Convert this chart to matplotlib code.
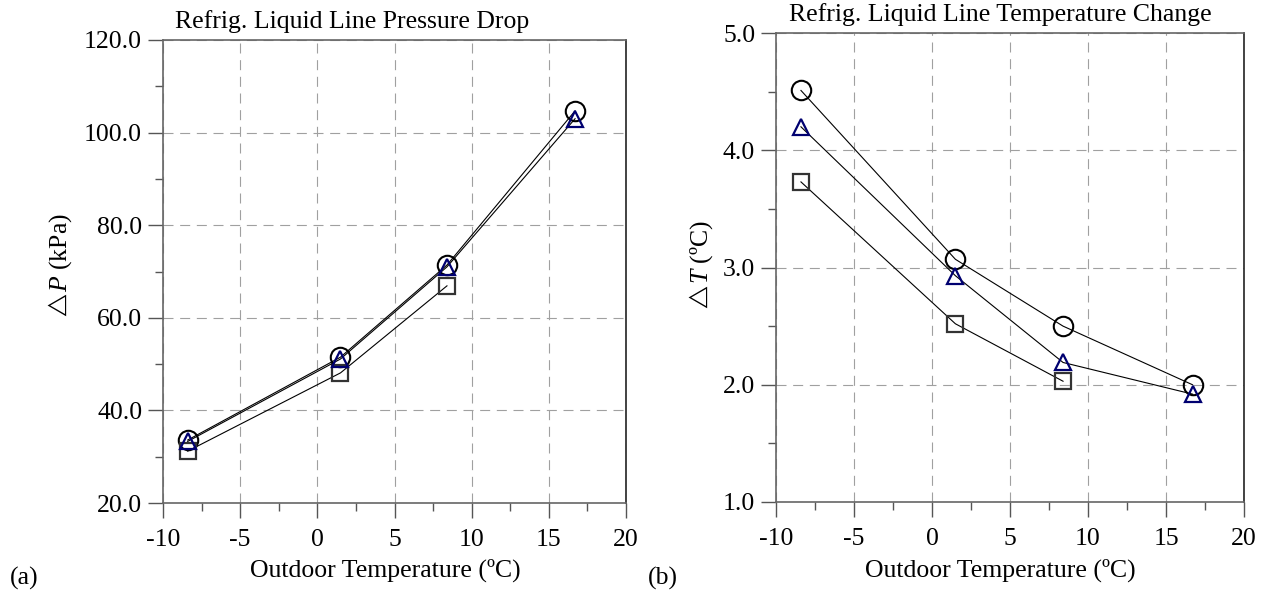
import numpy as np
import matplotlib
matplotlib.use("Agg")
import matplotlib.pyplot as plt
from matplotlib.ticker import MultipleLocator, FormatStrFormatter

plt.rcParams["font.family"] = ["Liberation Serif", "DejaVu Serif"]
plt.rcParams["mathtext.fontset"] = "custom"
plt.rcParams["mathtext.rm"] = "Liberation Serif"
plt.rcParams["mathtext.it"] = "Liberation Serif:italic"
plt.rcParams["mathtext.fallback"] = "stix"
plt.rcParams["axes.unicode_minus"] = False

# outdoor temperatures of the test points
t_out = [-8.4, 1.5, 8.4, 16.7]

# liquid line pressure drop (kPa)
dp_circle = [33.6, 51.5, 71.4, 104.7]
dp_triangle = [33.3, 51.1, 71.0, 103.0]
dp_square = [31.2, 48.1, 66.9]

# liquid line temperature change (C)
dt_circle = [4.51, 3.07, 2.50, 2.00]
dt_triangle = [4.20, 2.93, 2.19, 1.92]
dt_square = [3.73, 2.52, 2.03]

FS = 18.5
W, H = 1267, 592

fig = plt.figure(figsize=(W / 100, H / 100), dpi=100)
ax1 = fig.add_axes([163 / W, 1 - 503 / H, 463 / W, 463 / H])
ax2 = fig.add_axes([776 / W, 1 - 502 / H, 468 / W, 469 / H])


def draw(ax, yc, yt, ys):
    line_kw = dict(color="black", lw=0.8)
    ax.plot(t_out, yc, marker="o", ms=14, mfc="none", mec="black", mew=1.5, **line_kw)
    ax.plot(t_out[:len(ys)], ys, marker="s", ms=11, mfc="none", mec="#333333", mew=1.6, **line_kw)
    ax.plot(t_out, yt, marker="^", ms=12, mfc="none", mec="#000070", mew=1.6, **line_kw)


def style(ax, ymin, ymax, ystep):
    ax.set_xlim(-10, 20)
    ax.set_ylim(ymin, ymax)
    ax.xaxis.set_major_locator(MultipleLocator(5))
    ax.xaxis.set_minor_locator(MultipleLocator(2.5))
    ax.yaxis.set_major_locator(MultipleLocator(ystep))
    ax.yaxis.set_minor_locator(MultipleLocator(ystep / 2))
    ax.yaxis.set_major_formatter(FormatStrFormatter("%.1f"))
    ax.grid(True, which="major", color="#a0a0a0", lw=0.8, linestyle=(0, (9, 6)))
    ax.tick_params(which="major", direction="out", length=11, width=1, colors="#555555",
                   labelsize=FS, labelcolor="black")
    ax.tick_params(which="minor", direction="out", length=6, width=1, colors="#555555")
    ax.tick_params(axis="x", which="major", pad=8)
    ax.tick_params(axis="y", which="major", pad=4)
    for side in ["left", "bottom", "top"]:
        ax.spines[side].set_color("#666666")
    ax.spines["right"].set_color("#222222")
    for s in ax.spines.values():
        s.set_linewidth(1.2)
    ax.set_xlabel("Outdoor Temperature (\u00baC)", fontsize=FS)
    ax.xaxis.set_label_coords(0.48, -0.12)


def ylabel(x, y_split, text):
    # small open triangle for the "delta", with the rest of the label stacked above it
    fig.text(x / W, 1 - (y_split + 12.5) / H, r"$\triangle$", fontsize=14.5, rotation=90,
             ha="center", va="center")
    fig.text((x + 2) / W, 1 - (y_split - 1) / H, text, fontsize=FS, rotation=90,
             ha="center", va="bottom")


draw(ax1, dp_circle, dp_triangle, dp_square)
style(ax1, 20, 120, 20)
draw(ax2, dt_circle, dt_triangle, dt_square)
style(ax2, 1, 5, 1)

fig.text(352 / W, 1 - 28 / H, "Refrig. Liquid Line Pressure Drop", fontsize=FS,
         ha="center", va="baseline")
fig.text(1000 / W, 1 - 21 / H, "Refrig. Liquid Line Temperature Change", fontsize=FS,
         ha="center", va="baseline")

ylabel(59, 293, "$P$ (kPa)")
ylabel(700, 285, "$T$ (\u00baC)")

fig.text(10 / W, 1 - 585 / H, "(a)", fontsize=FS, ha="left", va="baseline")
fig.text(648 / W, 1 - 585 / H, "(b)", fontsize=FS, ha="left", va="baseline")

fig.savefig("out.png", dpi=100)
